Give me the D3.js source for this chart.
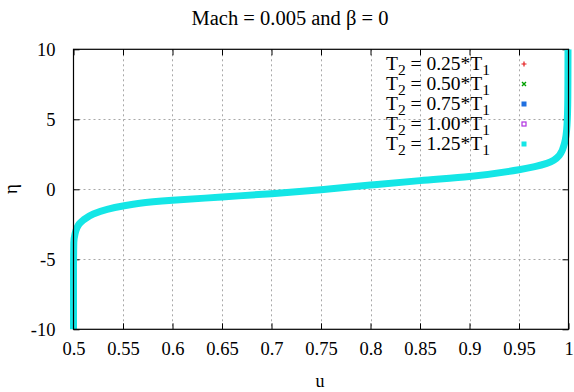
<!DOCTYPE html>
<html>
<head>
<meta charset="utf-8">
<script src="https://cdnjs.cloudflare.com/ajax/libs/d3/7.8.5/d3.min.js"></script>
<style>
    body { margin: 0; background: #fff; }
    svg text { font-family: "Liberation Serif", "DejaVu Serif", serif; fill: #000; }
    .gridLines { stroke: #a8a8a8; stroke-width: 1; stroke-dasharray: 2,3; }
</style>
</head>
<body>
<script>
(function(){

//values
var uTicks = [0.5, 0.55, 0.6, 0.65, 0.7, 0.75, 0.8, 0.85, 0.9, 0.95, 1];
var uTickLabels = ["0.5", "0.55", "0.6", "0.65", "0.7", "0.75", "0.8", "0.85", "0.9", "0.95", "1"];
var etaTicks = [-10, -5, 0, 5, 10];
var etaTickLabels = ["-10", "-5", "0", "5", "10"];
var seriesNames = ["0.25", "0.50", "0.75", "1.00", "1.25"];
var seriesColors = ["#e41a1c", "#00a000", "#1f6fe0", "#b030e0", "#14e6e6"];
var seriesMarkers = ["plus", "cross", "square", "openSquare", "square"];
//all five series lie on top of each other, the last one (cyan) is what shows
var uValues = [0.5, 0.5, 0.5003, 0.5015, 0.5034, 0.506, 0.51, 0.52, 0.534, 0.55, 0.567, 0.6, 0.65, 0.7, 0.75, 0.8, 0.85, 0.9, 0.95, 0.978, 0.991, 0.996, 0.9985, 0.9993, 0.9995];
var etaValues = [-10, -6, -3.8, -3.2, -2.77, -2.45, -2.19, -1.76, -1.43, -1.19, -1.0, -0.79, -0.55, -0.31, -0.03, 0.3, 0.62, 0.92, 1.4, 1.85, 2.45, 3.3, 4.6, 6.5, 10];

window.onload = setChart();

function setChart(){
    var width = 574,
        height = 392,
        left = 73.5,
        right = 568.5,
        top = 49.3,
        bottom = 329.3;

    var svg = d3.select("body")
        .append("svg")
        .attr("width", width)
        .attr("height", height);

    var x = d3.scaleLinear().domain([0.5, 1]).range([left, right]);
    var y = d3.scaleLinear().domain([-10, 10]).range([bottom, top]);

    //grid lines (interior only)
    svg.selectAll(".vGrid")
        .data(uTicks.slice(1, -1))
        .enter()
        .append("line")
        .attr("class", "gridLines")
        .attr("x1", function(d){ return Math.round(x(d)) + 0.5; })
        .attr("x2", function(d){ return Math.round(x(d)) + 0.5; })
        .attr("y1", top)
        .attr("y2", bottom);
    svg.selectAll(".hGrid")
        .data(etaTicks.slice(1, -1))
        .enter()
        .append("line")
        .attr("class", "gridLines")
        .attr("x1", left)
        .attr("x2", right)
        .attr("y1", function(d){ return Math.round(y(d)) + 0.5; })
        .attr("y2", function(d){ return Math.round(y(d)) + 0.5; });

    //axes with inward ticks on every side
    var tickLen = 6;
    svg.append("g")
        .attr("transform", "translate(0," + bottom + ")")
        .call(d3.axisBottom(x).tickValues(uTicks).tickSize(-tickLen).tickPadding(13)
            .tickFormat(function(d, i){ return uTickLabels[i]; }))
        .call(styleAxis);
    svg.append("g")
        .attr("transform", "translate(0," + top + ")")
        .call(d3.axisTop(x).tickValues(uTicks).tickSize(-tickLen).tickFormat(""))
        .call(styleAxis);
    svg.append("g")
        .attr("transform", "translate(" + left + ",0)")
        .call(d3.axisLeft(y).tickValues(etaTicks).tickSize(-tickLen).tickPadding(18)
            .tickFormat(function(d, i){ return etaTickLabels[i]; }))
        .call(styleAxis);
    svg.append("g")
        .attr("transform", "translate(" + right + ",0)")
        .call(d3.axisRight(y).tickValues(etaTicks).tickSize(-tickLen).tickFormat(""))
        .call(styleAxis);

    //the curve
    svg.append("clipPath")
        .attr("id", "plotClip")
        .append("rect")
        .attr("x", left - 4)
        .attr("y", top)
        .attr("width", right - left + 8)
        .attr("height", bottom - top + 1);

    var pts = uValues.map(function(u, i){ return [u, etaValues[i]]; });
    var line = d3.line()
        .x(function(d){ return x(d[0]); })
        .y(function(d){ return y(d[1]); })
        .curve(d3.curveMonotoneY);

    svg.append("path")
        .datum(pts)
        .attr("clip-path", "url(#plotClip)")
        .attr("d", line)
        .attr("fill", "none")
        .attr("stroke", seriesColors[4])
        .attr("stroke-width", 7);

    //frame
    svg.append("rect")
        .attr("x", left)
        .attr("y", top)
        .attr("width", right - left)
        .attr("height", bottom - top)
        .attr("fill", "none")
        .attr("stroke", "#000")
        .attr("stroke-width", 1.2);

    //legend
    var key = svg.selectAll(".key")
        .data(seriesNames)
        .enter()
        .append("g")
        .attr("transform", function(d, i){ return "translate(0," + (64 + i * 20) + ")"; });
    var label = key.append("text")
        .attr("x", 490)
        .attr("y", 6)
        .attr("text-anchor", "end")
        .style("font-size", "19.5px");
    label.append("tspan").text("T");
    label.append("tspan").attr("dy", 5).style("font-size", "15.5px").text("2");
    label.append("tspan").attr("dy", -5).text(function(d){ return " = " + d + "*T"; });
    label.append("tspan").attr("dy", 5).style("font-size", "15.5px").text("1");

    key.each(function(d, i){
        var g = d3.select(this),
            c = seriesColors[i],
            m = seriesMarkers[i],
            cx = 524;
        if (m == "plus"){
            g.append("path").attr("d", "M" + (cx - 2.5) + ",0H" + (cx + 2.5) + "M" + cx + ",-2.5V2.5")
                .attr("stroke", c).attr("stroke-width", 1.2);
        } else if (m == "cross"){
            g.append("path").attr("d", "M" + (cx - 2) + ",-2L" + (cx + 2) + ",2M" + (cx - 2) + ",2L" + (cx + 2) + ",-2")
                .attr("stroke", c).attr("stroke-width", 1.4);
        } else if (m == "square"){
            g.append("rect").attr("x", cx - 2.5).attr("y", -2.5).attr("width", 5).attr("height", 5).attr("fill", c);
        } else {
            g.append("rect").attr("x", cx - 2).attr("y", -2).attr("width", 4).attr("height", 4)
                .attr("fill", "none").attr("stroke", c).attr("stroke-width", 1.2);
        }
    });

    //titles
    svg.append("text")
        .attr("x", 290)
        .attr("y", 25)
        .attr("text-anchor", "middle")
        .style("font-size", "20.5px")
        .text("Mach = 0.005 and \u03b2 = 0");
    svg.append("text")
        .attr("x", 320)
        .attr("y", 387)
        .attr("text-anchor", "middle")
        .style("font-size", "18px")
        .text("u");
    svg.append("text")
        .attr("transform", "translate(17,189) rotate(-90)")
        .attr("text-anchor", "middle")
        .style("font-size", "19px")
        .text("\u03b7");
};

function styleAxis(g){
    g.attr("font-family", "Liberation Serif").attr("font-size", 18);
    g.select(".domain").remove();
    g.selectAll(".tick line").attr("stroke", "#000");
    g.selectAll(".tick text")
        .attr("font-family", "Liberation Serif")
        .style("font-family", "'Liberation Serif', serif")
        .style("font-size", "18.5px")
        .attr("fill", "#000");
};
})();
</script>
</body>
</html>
